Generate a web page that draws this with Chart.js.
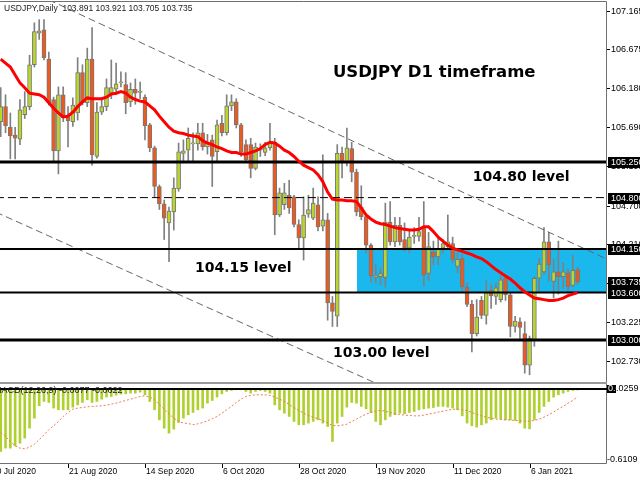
<!DOCTYPE html>
<html>
<head>
<meta charset="utf-8">
<script src="https://cdn.jsdelivr.net/npm/chart.js@4.4.1/dist/chart.umd.min.js"></script>
<style>
  html, body { margin: 0; padding: 0; background: #fff; }
  #wrap { position: relative; width: 640px; height: 480px; overflow: hidden; }
  #main { position: absolute; left: 0; top: 0; }
  #macd { position: absolute; left: 0; top: 384px; }
</style>
</head>
<body>
<div id="wrap">
  <canvas id="main" width="640" height="384"></canvas>
  <canvas id="macd" width="640" height="96"></canvas>
</div>
<script>
"use strict";

// USDJPY daily bars, 3 Aug 2020 .. 20 Jan 2021 (bar index 0..120)
const open = [105.76,105.95,105.69,105.59,105.54,105.85,105.95,106.48,106.88,106.92,
  106.55,106.04,105.39,106.10,105.82,105.76,105.87,106.38,106.00,106.55,
  105.32,105.88,105.95,106.12,106.17,106.25,106.23,106.01,106.17,106.13,
  106.07,105.72,105.43,104.94,104.72,104.48,104.62,104.91,105.36,105.40,
  105.48,105.48,105.62,105.44,105.53,105.38,105.74,105.62,105.96,106.01,
  105.72,105.47,105.47,105.17,105.40,105.37,105.43,105.50,104.58,104.71,
  104.83,104.81,104.46,104.29,104.59,104.54,104.71,104.44,104.52,103.47,
  103.30,105.36,105.25,105.42,105.12,104.68,104.56,104.20,103.79,103.80,
  103.79,104.49,104.24,104.45,104.27,104.16,104.31,104.31,104.42,103.84,
  104.11,104.05,104.16,104.18,104.22,103.93,104.03,103.67,103.45,103.08,
  103.50,103.31,103.63,103.55,103.51,103.78,103.57,103.17,103.23,103.08,
  102.68,103.00,103.78,103.86,104.24,103.74,103.86,103.80,103.85,103.69,
  103.891];
const high = [106.19,106.10,105.87,105.69,106.04,106.14,106.60,107.01,107.05,107.05,
  106.64,106.07,106.20,106.20,105.95,106.06,106.57,106.48,106.69,106.95,
  106.00,106.06,106.30,106.54,106.50,106.39,106.38,106.25,106.30,106.26,
  106.10,105.74,105.45,104.96,104.77,104.68,105.05,105.49,105.53,105.68,
  105.62,105.74,105.74,105.60,105.59,105.78,105.84,106.10,106.10,106.05,
  105.74,105.53,105.55,105.49,105.48,105.50,105.74,105.55,104.92,104.98,
  105.02,104.83,104.52,104.81,104.83,104.92,104.81,105.34,104.60,103.55,
  105.47,105.44,105.68,105.50,105.16,104.95,104.58,104.22,103.95,103.90,
  104.73,104.75,104.55,104.55,104.48,104.38,104.42,104.55,104.75,104.36,
  104.25,104.30,104.27,104.58,104.30,104.10,104.08,103.72,103.50,103.51,
  103.55,103.75,103.70,103.72,103.82,103.80,103.60,103.30,103.28,103.23,
  103.05,103.80,104.03,104.42,104.36,104.02,104.25,103.98,103.90,104.07,
  103.921];
const low = [105.57,105.62,105.29,105.29,105.47,105.80,105.91,106.45,106.80,106.54,
  105.97,105.26,105.10,105.76,105.44,105.70,105.78,105.97,105.95,105.21,
  105.30,105.85,105.90,106.05,106.10,106.20,105.86,105.95,105.98,106.05,
  105.53,105.38,104.81,104.65,104.27,103.99,104.39,104.88,105.24,105.25,
  105.25,105.40,105.40,105.35,104.94,105.25,105.58,105.59,105.90,105.68,
  105.32,105.26,105.05,105.15,105.32,105.33,105.40,104.33,104.56,104.65,
  104.60,104.43,104.16,104.01,104.55,104.52,104.38,104.38,103.25,103.17,
  103.17,105.05,105.20,105.00,104.57,104.52,104.10,103.73,103.72,103.70,
  103.67,104.20,104.18,104.20,104.12,104.10,104.22,104.25,103.68,103.75,
  103.95,103.95,104.10,104.15,103.98,103.85,103.60,103.42,102.85,103.05,
  103.27,103.20,103.40,103.45,103.48,103.50,103.04,103.10,103.02,102.58,
  102.56,102.92,103.62,103.83,103.74,103.53,103.58,103.65,103.60,103.67,
  103.705];
const close = [105.95,105.71,105.58,105.55,105.91,105.95,106.48,106.90,106.91,106.57,
  106.00,105.39,106.10,105.81,105.77,105.97,106.38,106.00,106.55,105.34,
  105.88,105.95,106.19,106.19,106.24,106.25,106.00,106.17,106.12,106.14,
  105.71,105.43,104.94,104.72,104.54,104.63,104.92,105.38,105.39,105.55,
  105.48,105.62,105.44,105.50,105.32,105.72,105.62,105.96,106.01,105.72,
  105.38,105.28,105.17,105.44,105.42,105.43,105.50,104.58,104.86,104.86,
  104.67,104.46,104.29,104.58,104.65,104.73,104.43,104.52,103.47,103.36,
  105.36,105.25,105.43,105.12,104.62,104.56,104.20,103.81,103.81,103.84,
  104.49,104.24,104.45,104.24,104.16,104.30,104.31,104.37,103.82,104.18,
  104.05,104.16,104.22,104.24,104.02,104.02,103.67,103.45,103.08,103.29,
  103.31,103.60,103.56,103.66,103.76,103.57,103.17,103.24,103.16,102.68,
  103.02,103.78,103.96,104.24,103.95,103.86,103.80,103.86,103.67,103.88,
  103.735];

// red moving average
const ma = [106.55,106.50,106.45,106.35,106.25,106.19,106.12,106.11,106.10,106.07,
  106.00,105.93,105.87,105.82,105.83,105.88,105.95,106.01,106.06,106.05,
  106.05,106.05,106.07,106.11,106.12,106.14,106.12,106.07,106.04,106.02,
  106.01,105.96,105.91,105.83,105.76,105.69,105.64,105.62,105.61,105.59,
  105.58,105.57,105.52,105.49,105.47,105.44,105.42,105.39,105.37,105.37,
  105.35,105.35,105.37,105.39,105.42,105.47,105.50,105.49,105.45,105.40,
  105.37,105.32,105.26,105.21,105.18,105.15,105.09,105.00,104.87,104.78,
  104.77,104.77,104.76,104.76,104.75,104.67,104.58,104.53,104.49,104.47,
  104.46,104.44,104.42,104.41,104.40,104.39,104.39,104.40,104.43,104.43,
  104.37,104.30,104.25,104.20,104.16,104.14,104.12,104.10,104.08,104.05,
  104.03,103.99,103.94,103.89,103.85,103.81,103.77,103.72,103.66,103.61,
  103.57,103.53,103.52,103.51,103.50,103.50,103.51,103.53,103.56,103.58,
  103.60];

// MACD(12,26,9): histogram (main) and signal
const macdMain = [-0.516,-0.488,-0.488,-0.469,-0.447,-0.405,-0.323,-0.240,-0.138,-0.102,
  -0.110,-0.157,-0.171,-0.171,-0.171,-0.149,-0.130,-0.110,-0.088,-0.110,
  -0.102,-0.083,-0.066,-0.061,-0.050,-0.041,-0.039,-0.033,-0.033,-0.025,
  -0.047,-0.102,-0.171,-0.254,-0.323,-0.364,-0.331,-0.276,-0.240,-0.212,
  -0.193,-0.171,-0.157,-0.116,-0.094,-0.066,-0.039,-0.019,-0.011,-0.006,
  -0.006,-0.019,-0.033,-0.019,-0.011,-0.019,-0.033,-0.130,-0.171,-0.199,
  -0.226,-0.267,-0.295,-0.295,-0.281,-0.267,-0.254,-0.281,-0.309,-0.433,
  -0.281,-0.226,-0.149,-0.110,-0.116,-0.143,-0.163,-0.193,-0.267,-0.295,
  -0.254,-0.226,-0.212,-0.199,-0.204,-0.193,-0.185,-0.171,-0.163,-0.157,
  -0.152,-0.143,-0.143,-0.149,-0.157,-0.171,-0.221,-0.281,-0.303,-0.314,
  -0.295,-0.281,-0.254,-0.240,-0.248,-0.254,-0.254,-0.259,-0.281,-0.323,
  -0.328,-0.254,-0.193,-0.143,-0.102,-0.066,-0.047,-0.033,-0.019,-0.011,
  -0.0077];
const macdSignal = [-0.356,-0.391,-0.433,-0.469,-0.488,-0.494,-0.480,-0.455,-0.419,-0.378,
  -0.336,-0.303,-0.267,-0.226,-0.193,-0.165,-0.157,-0.152,-0.146,-0.143,
  -0.141,-0.138,-0.132,-0.124,-0.116,-0.105,-0.094,-0.083,-0.072,-0.061,
  -0.055,-0.066,-0.088,-0.130,-0.165,-0.204,-0.240,-0.267,-0.281,-0.284,
  -0.295,-0.287,-0.276,-0.262,-0.245,-0.226,-0.199,-0.171,-0.143,-0.110,
  -0.083,-0.061,-0.052,-0.047,-0.047,-0.047,-0.052,-0.066,-0.083,-0.102,
  -0.127,-0.152,-0.176,-0.199,-0.218,-0.232,-0.245,-0.259,-0.281,-0.301,
  -0.303,-0.298,-0.290,-0.267,-0.248,-0.226,-0.207,-0.193,-0.182,-0.176,
  -0.182,-0.193,-0.204,-0.210,-0.215,-0.218,-0.221,-0.221,-0.215,-0.207,
  -0.199,-0.190,-0.182,-0.174,-0.168,-0.165,-0.168,-0.179,-0.193,-0.207,
  -0.221,-0.232,-0.240,-0.248,-0.251,-0.254,-0.256,-0.259,-0.262,-0.265,
  -0.265,-0.259,-0.248,-0.232,-0.212,-0.190,-0.165,-0.143,-0.116,-0.094,
  -0.0622];

// axis / annotation values
const priceTicks = [107.165, 106.675, 106.180, 105.690, 105.195, 104.700, 104.210, 103.720, 103.225, 102.730];
const levelPrices = [105.25, 104.80, 104.15, 103.60, 103.00];
const markedPrices = [105.25, 104.80, 104.15, 103.735, 103.60, 103.00];
const zoneBar = 74.1;
const zoneTop = 104.15;
const zoneBottom = 103.60;
const upperTrend = [[10, 107.30], [126, 104.024]];
const lowerTrend = [[-1, 104.616], [82, 102.345]];
const dateLabels = ["30 Jul 2020", "21 Aug 2020", "14 Sep 2020", "6 Oct 2020", "28 Oct 2020", "19 Nov 2020", "11 Dec 2020", "6 Jan 2021"];
const dateBars = [-2, 14, 30, 46, 62, 78, 94, 110];
const macdTop = 0.0259;
const macdBottom = -0.6109;

// view window (bar units / price units)
const X_MIN = -0.15, X_MAX = 125.9;
const Y_MIN = 102.456, Y_MAX = 107.273;

const BULL = "#bcd42e";
const BEAR = "#ec5a1e";
const FONT = '"Liberation Sans", Arial, sans-serif';
const BOLD = '"DejaVu Sans", Verdana, sans-serif';

const bars = open.map((_, i) => i);
const pts = (arr) => arr.map((v, i) => ({ x: i, y: v }));
const hline = (v) => [{ x: -1, y: v }, { x: 127, y: v }];
const seg = (s) => s.map(([x, y]) => ({ x, y }));

const levelWidth = { 105.25: 3, 104.8: 1, 104.15: 2, 103.6: 2, 103: 3 };

const mainOverlay = {
  id: "mainOverlay",
  afterDraw(chart) {
    const { ctx, chartArea: a, scales: { x, y } } = chart;
    ctx.save();
    // frame
    ctx.strokeStyle = "#6f6f6f";
    ctx.lineWidth = 1;
    ctx.beginPath();
    ctx.moveTo(0, a.top - 0.5);
    ctx.lineTo(a.right + 0.5, a.top - 0.5);
    ctx.lineTo(a.right + 0.5, chart.height);
    ctx.stroke();
    ctx.fillStyle = "#9a9a9a";
    ctx.fillRect(0, a.bottom - 1, a.right + 1, 2);

    // price scale
    ctx.font = "9px " + FONT;
    ctx.textBaseline = "middle";
    ctx.textAlign = "left";
    priceTicks.forEach((v) => {
      const py = Math.round(y.getPixelForValue(v));
      ctx.fillStyle = "#000";
      ctx.fillRect(a.right + 1, py, 3, 1);
      ctx.fillText(v.toFixed(3), a.right + 5, py + 0.5);
    });
    markedPrices.forEach((v) => {
      const py = Math.round(y.getPixelForValue(v));
      ctx.fillStyle = "#000";
      ctx.fillRect(a.right + 2, py - 5, 40, 11);
      ctx.fillStyle = "#fff";
      ctx.fillText(v.toFixed(3), a.right + 5, py + 0.5);
    });

    // header
    ctx.fillStyle = "#1a1a1a";
    ctx.font = "8.5px " + FONT;
    ctx.fillText("USDJPY,Daily  103.891 103.921 103.705 103.735", 4, 9);

    // annotations
    ctx.fillStyle = "#000";
    const label = (t, bar, price, size) => {
      ctx.font = "bold " + size + "px " + BOLD;
      ctx.fillText(t, x.getPixelForValue(bar), y.getPixelForValue(price));
    };
    label("USDJPY D1 timeframe", 69.1, 106.375, 16.5);
    label("104.80 level", 98.2, 105.06, 14);
    label("104.15 level", 40.4, 103.91, 14);
    label("103.00 level", 69.1, 102.835, 14);
    ctx.restore();
  },
};

new Chart(document.getElementById("main"), {
  type: "bar",
  data: {
    datasets: [
      {
        type: "line",
        data: [{ x: zoneBar, y: zoneTop }, { x: 127, y: zoneTop }],
        borderWidth: 0,
        pointRadius: 0,
        fill: { value: zoneBottom },
        backgroundColor: "#1bb8ee",
        order: 20,
      },
      {
        data: bars.map((i) => ({ x: i, y: [low[i], high[i]] })),
        backgroundColor: "#808080",
        barThickness: 1,
        grouped: false,
        order: 6,
      },
      {
        data: bars.map((i) => ({ x: i, y: [open[i], close[i]] })),
        backgroundColor: bars.map((i) => (close[i] >= open[i] ? BULL : BEAR)),
        borderColor: "#777",
        borderWidth: 1,
        borderSkipped: false,
        barThickness: 4,
        minBarLength: 1,
        grouped: false,
        order: 5,
      },
      ...levelPrices.map((v) => ({
        type: "line",
        data: hline(v),
        borderColor: "#000",
        borderWidth: levelWidth[v],
        borderDash: v === 104.8 ? [8, 4] : [],
        pointRadius: 0,
        order: 3,
      })),
      ...[upperTrend, lowerTrend].map((s) => ({
        type: "line",
        data: seg(s),
        borderColor: "#666",
        borderWidth: 1,
        borderDash: [7, 4],
        pointRadius: 0,
        order: 4,
      })),
      {
        type: "line",
        data: pts(ma),
        borderColor: "#ff0000",
        borderWidth: 3,
        pointRadius: 0,
        order: 1,
      },
    ],
  },
  options: {
    responsive: false,
    devicePixelRatio: 1,
    animation: false,
    layout: { padding: { left: 0, right: 34, top: 2, bottom: 1 } },
    plugins: { legend: { display: false }, tooltip: { enabled: false } },
    scales: {
      x: { type: "linear", min: X_MIN, max: X_MAX, offset: false, display: false },
      y: { type: "linear", min: Y_MIN, max: Y_MAX, display: false },
    },
  },
  plugins: [mainOverlay],
});

const macdOverlay = {
  id: "macdOverlay",
  afterDraw(chart) {
    const { ctx, chartArea: a, scales: { x, y } } = chart;
    ctx.save();
    ctx.strokeStyle = "#6f6f6f";
    ctx.lineWidth = 1;
    ctx.beginPath();
    ctx.moveTo(a.right + 0.5, 0);
    ctx.lineTo(a.right + 0.5, a.bottom + 0.5);
    ctx.lineTo(0, a.bottom + 0.5);
    ctx.stroke();
    ctx.fillStyle = "#000";
    ctx.fillRect(0, Math.round(y.getPixelForValue(0)) - 1, a.right + 1, 2);

    ctx.font = "9px " + FONT;
    ctx.textBaseline = "middle";
    ctx.fillStyle = "#000";
    ctx.fillText(String(macdTop), a.right + 5, a.top + 3);
    ctx.fillText(String(macdBottom), a.right + 1, a.bottom - 3);
    ctx.fillRect(a.right + 1, a.top - 1, 9, 8);
    ctx.save();
    ctx.beginPath();
    ctx.rect(a.right + 1, a.top - 1, 9, 8);
    ctx.clip();
    ctx.fillStyle = "#fff";
    ctx.fillText("0.00", a.right + 2, a.top + 3);
    ctx.restore();

    ctx.fillStyle = "#1a1a1a";
    ctx.fillText("MACD(12,26,9) -0.0077 -0.0622", -6, a.top + 5);

    ctx.font = "8.5px " + FONT;
    dateBars.forEach((b, k) => {
      const px = Math.round(x.getPixelForValue(b));
      ctx.fillStyle = "#000";
      ctx.fillRect(px, a.bottom + 1, 1, 4);
      ctx.fillText(dateLabels[k], px + 1, a.bottom + 9);
    });
    ctx.restore();
  },
};

new Chart(document.getElementById("macd"), {
  type: "bar",
  data: {
    datasets: [
      {
        data: pts(macdMain),
        backgroundColor: "#b0d030",
        barThickness: 2,
        grouped: false,
        order: 2,
      },
      {
        type: "line",
        data: pts(macdSignal),
        borderColor: "#f07850",
        borderWidth: 1,
        borderDash: [2, 2],
        pointRadius: 0,
        order: 1,
      },
    ],
  },
  options: {
    responsive: false,
    devicePixelRatio: 1,
    animation: false,
    layout: { padding: { left: 0, right: 34, top: 2, bottom: 17 } },
    plugins: { legend: { display: false }, tooltip: { enabled: false } },
    scales: {
      x: { type: "linear", min: X_MIN, max: X_MAX, offset: false, display: false },
      y: { type: "linear", min: macdBottom, max: macdTop, display: false },
    },
  },
  plugins: [macdOverlay],
});
</script>
</body>
</html>
